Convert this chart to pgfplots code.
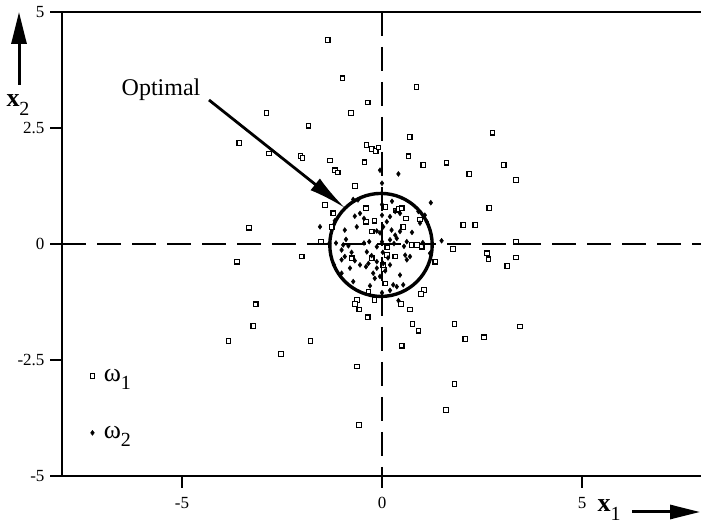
\documentclass[border=0pt]{standalone}
\usepackage{fontspec}
\setmainfont{Liberation Serif}
\usepackage{pgfplots}
\pgfplotsset{compat=1.18}
\usetikzlibrary{arrows.meta}

\newcommand{\sub}[1]{\raisebox{-0.32em}{\fontsize{20}{20}\selectfont #1}}

\begin{document}
\begin{tikzpicture}[x=1pt,y=1pt]
\useasboundingbox (0,0) rectangle (701,524);
\begin{axis}[
  at={(62pt,48pt)}, anchor=south west,
  scale only axis, width=640pt, height=464pt,
  xmin=-8, xmax=8, ymin=-5, ymax=5,
  xtick={-5,0,5}, xticklabels={-5,0,5},
  ytick={-5,-2.5,0,2.5,5}, yticklabels={-5,-2.5,0,2.5,5},
  xtick pos=left, ytick pos=left,
  tick align=outside, major tick length=12pt,
  tick style={line width=1.8pt, black},
  axis line style={line width=2.6pt},
  ticklabel style={font=\fontsize{17}{17}\selectfont},
  xticklabel style={yshift=-6pt},
  yticklabel style={xshift=-2pt},
  legend style={draw=none, fill=none, at={(rel axis cs:0.039,0.239)}, anchor=north west,
    font=\fontsize{26}{26}\selectfont, row sep=39pt, column sep=7pt},
  legend cell align=left,
]
% class omega_1
\addplot[only marks, mark=square*, mark size=2.3pt,
  mark options={fill=white, draw=black, line width=1.2pt}] coordinates {
  (-1.36,4.40) (-0.99,3.57) (-0.36,3.05) (-2.89,2.82) (-0.78,2.82)
  (-1.84,2.55) (-3.57,2.18) (-2.83,1.95) (-2.04,1.90) (-1.99,1.85)
  (-1.30,1.80) (-1.18,1.59) (-1.11,1.54) (-0.44,1.76) (-0.39,2.13)
  (-0.26,2.05) (-0.16,2.00) (-0.09,2.08) (-0.68,1.25) (-1.43,0.84)
  (-1.22,0.66) (-1.26,0.37) (-1.53,0.05) (-2.01,-0.27) (-3.63,-0.38)
  (-3.33,0.35) (-3.16,-1.30) (-3.22,-1.77) (-3.84,-2.09) (-1.79,-2.09)
  (-2.53,-2.37) (-0.63,-2.64) (-0.58,-3.90) (-0.63,-1.21) (-0.68,-1.29)
  (-0.57,-1.41) (-0.36,-1.58) (-0.34,-1.03) (-0.19,-1.21)
  (0.86,3.38) (0.69,2.31) (2.76,2.40) (0.66,1.89) (1.03,1.70)
  (1.61,1.75) (3.04,1.70) (2.18,1.51) (3.35,1.38) (2.68,0.78)
  (2.03,0.41) (2.33,0.41) (3.35,0.05) (1.77,-0.11) (1.33,-0.38)
  (2.62,-0.20) (2.66,-0.33) (3.35,-0.29) (3.13,-0.47)
  (1.05,-0.99) (0.97,-1.08) (0.70,-1.41) (0.47,-1.29) (0.76,-1.72)
  (0.91,-1.87) (1.81,-1.72) (3.45,-1.78) (2.08,-2.05) (2.55,-2.01)
  (0.49,-2.19) (1.81,-3.02) (1.60,-3.58)
  (0.08,0.80) (-0.40,0.77) (0.35,0.72) (0.41,0.75) (0.49,0.77)
  (0.60,0.55) (0.53,0.37) (0.95,0.53) (-0.40,0.48) (-0.19,0.50)
  (-0.26,0.27) (-0.76,-0.31) (-0.26,-0.31) (0.12,-0.24) (0.33,-0.27)
  (0.03,-0.45) (0.74,-0.02) (0.87,-0.02) (0.99,-0.06) (0.13,-0.07)
  (0.08,-0.85) (0.05,-0.55)
};
\addlegendentry{ω\sub{1}}
% class omega_2
\addplot[only marks, mark=diamond*, mark size=2.5pt, black] coordinates {
  (-0.05,1.59) (0.41,1.51) (0,1.31) (1.22,0.89) (-0.72,0.96)
  (-0.55,0.66) (-0.68,0.60) (-0.93,0.30) (-1.55,0.37) (-1.18,0.50)
  (-0.63,0.37) (-0.13,0.28) (-0.05,0.24) (-1.32,0.01) (-0.97,-0.02)
  (-0.84,-0.04) (-0.32,0.05) (-0.13,-0.06) (0.03,0.37) (0.12,0.48)
  (0.20,0.59) (0.33,0.70) (0.45,0.66) (0.24,0.30) (0.33,0.19)
  (0.37,0.12) (0.45,0.27) (0.20,0.09) (0.62,0.05) (0.95,0.45)
  (1.12,0.48) (1.07,0.62) (0.91,0.70) (1.49,0.07) (-0.93,-0.27)
  (-1.01,-0.13) (-0.38,-0.17) (-0.26,-0.25) (-0.13,-0.38) (-0.34,-0.42)
  (-0.68,-0.36) (-0.55,-0.45) (-0.76,-0.18) (-0.80,-0.52) (-1.01,-0.34)
  (-0.40,-0.49) (-0.22,-0.63) (-0.18,-0.74) (-0.05,-0.70) (-0.13,-0.52)
  (0.03,-0.42) (0.20,-0.45) (0.08,-0.58) (0.58,-0.24) (0.70,-0.27)
  (0.62,-0.34) (0.45,-0.67) (0.28,-0.88) (0.37,-0.92) (0.53,-0.88)
  (-0.72,-0.81) (0.41,-1.22) (-1.01,-0.63) (0,0.85) (0,0.62)
  (0,0.05) (0.02,-0.18) (-0.45,0.02) (0.30,0.01) (-1.15,0.02)
  (1.02,0.03) (-0.60,0.95) (0.55,-0.05) (0.15,-0.30) (-0.30,-0.90)
  (0.20,-1.00) (-0.90,0.10) (0.75,0.25) (-0.45,0.55) (0.00,-1.05)
  (0.25,0.92) (1.20,-0.20) (-1.20,-0.45)
};
\addlegendentry{ω\sub{2}}
% coordinate axes through the origin
\draw[line width=2.6pt, dash pattern=on 24pt off 11pt] (axis cs:0,5) -- (axis cs:0,-5);
\draw[line width=2.6pt, dash pattern=on 24pt off 11pt] (axis cs:-8,0) -- (axis cs:8,0);
% optimal decision boundary
\draw[line width=3.4pt] (axis cs:-0.025,-0.02) ellipse [x radius=1.28, y radius=1.11];
\end{axis}
% annotation
\node[font=\fontsize{24}{24}\selectfont] at (161,434) {Optimal};
\draw[line width=2.8pt, -{Latex[length=38pt,width=15pt]}] (209,424) -- (345,316);
% axis names with direction arrows
\draw[line width=3pt, -{Triangle[length=32pt,width=15pt]}] (19,439) -- (19,512);
\node[font=\fontsize{26}{26}\selectfont] at (18,419) {\textbf{x}\sub{2}};
\draw[line width=3pt, -{Triangle[length=30pt,width=14pt]}] (632,12) -- (700,12);
\node[font=\fontsize{26}{26}\selectfont] at (609,14) {\textbf{x}\sub{1}};
\end{tikzpicture}
\end{document}
